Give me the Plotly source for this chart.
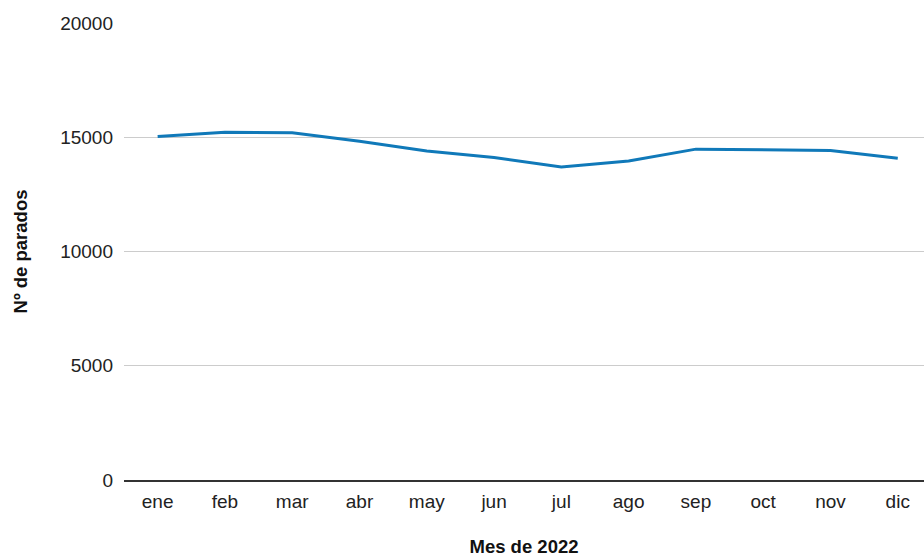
import plotly.graph_objects as go

months = ["ene", "feb", "mar", "abr", "may", "jun", "jul", "ago", "sep", "oct", "nov", "dic"]
parados = [15030, 15215, 15195, 14820, 14400, 14110, 13700, 13960, 14480, 14455, 14425, 14080]
y_ticks = [0, 5000, 10000, 15000, 20000]

fig = go.Figure()
fig.add_trace(go.Scatter(
    x=months, y=parados, mode="lines",
    line=dict(color="#1079b9", width=3),
    hoverinfo="x+y",
))

fig.update_layout(
    width=924, height=557,
    paper_bgcolor="white", plot_bgcolor="white",
    margin=dict(l=124, r=0, t=23, b=77),
    font=dict(family="Liberation Sans, Arial, sans-serif", size=19, color="#222222"),
    showlegend=False,
    xaxis=dict(
        range=[-0.5, 11.39],
        showgrid=False, showline=True, linecolor="#333333", linewidth=1.5,
        ticks="", tickfont=dict(size=19, color="#222222"), ticklabelstandoff=3,
        title=dict(text="<b>Mes de 2022</b>", font=dict(size=18.5, color="#111111"), standoff=30),
        automargin=False,
    ),
    yaxis=dict(
        range=[0, 20000], tickvals=y_ticks, ticktext=[str(v) for v in y_ticks],
        showgrid=True, gridcolor="#cccccc", gridwidth=1,
        zeroline=False, showline=False,
        ticks="", tickfont=dict(size=19, color="#222222"), ticklabelstandoff=10,
        title=dict(text="<b>Nº de parados</b>", font=dict(size=18.5, color="#111111"), standoff=27),
        automargin=False,
    ),
)

fig.write_html(
    "out.html",
    config={"displayModeBar": False},
    post_script="document.body.style.margin='0';document.body.style.overflow='hidden';",
)
